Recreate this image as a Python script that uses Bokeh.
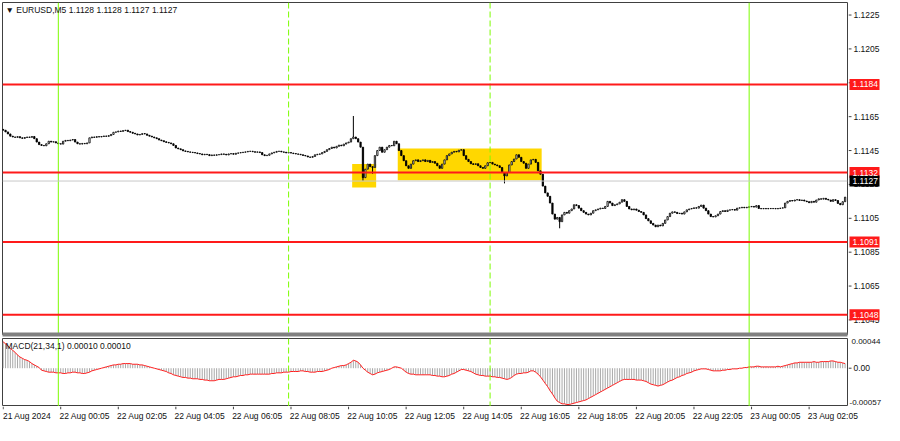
import numpy as np
from bokeh.plotting import figure
from bokeh.models import (Range1d, LinearAxis, FixedTicker, Span, Label, ColumnDataSource)
from bokeh.layouts import column, row
from bokeh.embed import file_html
from bokeh.resources import INLINE
from bokeh.core.properties import value

# ---------------- data (EURUSD M5, bar 0 = 21 Aug 2024 22:05) ----------------
first_open = 1.11575
close = [
    1.11570, 1.11560, 1.11548, 1.11535, 1.11530, 1.11528, 1.11532, 1.11525, 1.11522, 1.11527,
    1.11530, 1.11528, 1.11533, 1.11520, 1.11500, 1.11485, 1.11480, 1.11478, 1.11490, 1.11505,
    1.11500, 1.11502, 1.11495, 1.11490, 1.11488, 1.11505, 1.11510, 1.11508, 1.11512, 1.11515,
    1.11500, 1.11490, 1.11488, 1.11492, 1.11490, 1.11495, 1.11525, 1.11530, 1.11528, 1.11532,
    1.11530, 1.11533, 1.11536, 1.11534, 1.11538, 1.11545, 1.11558, 1.11560, 1.11565, 1.11563,
    1.11568, 1.11570, 1.11562, 1.11558, 1.11552, 1.11548, 1.11542, 1.11545, 1.11550, 1.11548,
    1.11540, 1.11535, 1.11530, 1.11525, 1.11520, 1.11512, 1.11508, 1.11502, 1.11498, 1.11495,
    1.11490, 1.11480, 1.11465, 1.11460, 1.11455, 1.11448, 1.11445, 1.11442, 1.11440, 1.11438,
    1.11436, 1.11432, 1.11430, 1.11425, 1.11428, 1.11426, 1.11420, 1.11424, 1.11422, 1.11425,
    1.11426, 1.11430, 1.11428, 1.11424, 1.11430, 1.11432, 1.11428, 1.11434, 1.11436, 1.11438,
    1.11440, 1.11442, 1.11445, 1.11446, 1.11443, 1.11440, 1.11442, 1.11438, 1.11425, 1.11420,
    1.11422, 1.11430, 1.11436, 1.11440, 1.11445, 1.11446, 1.11442, 1.11440, 1.11436, 1.11438,
    1.11435, 1.11432, 1.11430, 1.11428, 1.11425, 1.11421, 1.11418, 1.11412, 1.11410, 1.11415,
    1.11425, 1.11428, 1.11430, 1.11438, 1.11445, 1.11455, 1.11462, 1.11470, 1.11465, 1.11475,
    1.11482, 1.11478, 1.11488, 1.11495, 1.11500, 1.11520, 1.11530, 1.11520, 1.11500, 1.11470,
    1.11290, 1.11340, 1.11370, 1.11355, 1.11350, 1.11420, 1.11450, 1.11470, 1.11440, 1.11455,
    1.11470, 1.11480, 1.11478, 1.11505, 1.11490, 1.11450, 1.11420, 1.11390, 1.11360, 1.11345,
    1.11370, 1.11390, 1.11395, 1.11385, 1.11390, 1.11395, 1.11385, 1.11392, 1.11380, 1.11385,
    1.11375, 1.11360, 1.11345, 1.11370, 1.11395, 1.11420, 1.11430, 1.11440, 1.11445, 1.11442,
    1.11452, 1.11455, 1.11420, 1.11398, 1.11385, 1.11372, 1.11368, 1.11372, 1.11360, 1.11350,
    1.11345, 1.11360, 1.11378, 1.11380, 1.11370, 1.11365, 1.11360, 1.11350, 1.11320, 1.11300,
    1.11320, 1.11365, 1.11385, 1.11400, 1.11425, 1.11410, 1.11385, 1.11375, 1.11345, 1.11370,
    1.11395, 1.11398, 1.11380, 1.11330, 1.11310, 1.11240, 1.11200, 1.11180, 1.11140, 1.11075,
    1.11045, 1.11055, 1.11030, 1.11070, 1.11085, 1.11080, 1.11095, 1.11105, 1.11130, 1.11125,
    1.11110, 1.11095, 1.11085, 1.11075, 1.11070, 1.11080, 1.11095, 1.11100, 1.11105, 1.11110,
    1.11108, 1.11120, 1.11150, 1.11140, 1.11125, 1.11130, 1.11135, 1.11145, 1.11160, 1.11150,
    1.11120, 1.11105, 1.11100, 1.11105, 1.11098, 1.11090, 1.11085, 1.11070, 1.11048, 1.11035,
    1.11020, 1.11010, 1.11000, 1.11010, 1.11005, 1.11020, 1.11040, 1.11060, 1.11080, 1.11088,
    1.11085, 1.11078, 1.11080, 1.11075, 1.11088, 1.11100, 1.11105, 1.11108, 1.11112, 1.11110,
    1.11120, 1.11128, 1.11110, 1.11095, 1.11075, 1.11060, 1.11058, 1.11065, 1.11075, 1.11090,
    1.11095, 1.11090, 1.11098, 1.11100, 1.11102, 1.11098, 1.11110, 1.11112, 1.11115, 1.11112,
    1.11115, 1.11118, 1.11120, 1.11116, 1.11125, 1.11108, 1.11106, 1.11108, 1.11106, 1.11108,
    1.11107, 1.11108, 1.11106, 1.11108, 1.11110, 1.11112, 1.11140, 1.11150, 1.11155, 1.11152,
    1.11158, 1.11160, 1.11155, 1.11158, 1.11152, 1.11148, 1.11142, 1.11150, 1.11145, 1.11158,
    1.11165, 1.11163, 1.11168, 1.11162, 1.11158, 1.11150, 1.11160, 1.11155, 1.11138, 1.11130,
    1.11148, 1.11175,
]
wick_high = {146: 1.11654}
wick_low = {150: 1.11272, 154: 1.11313, 209: 1.11256, 232: 1.10991}

# MACD(21,34,1) main value per bar, in units of 0.00001 (signal period 1 -> same line)
macd_e5 = [
    40, 37, 34, 30, 27, 24, 20, 17, 15, 13,
    12, 10, 7, 5, 3, 1, -3, -4, -5, -6,
    -6, -6, -7, -7, -7, -8, -8, -7, -7, -6,
    -6, -7, -7, -8, -8, -7, -6, -4, -3, -2,
    -1, 0, 1, 2, 3, 4, 5, 5, 6, 6,
    7, 7, 7, 7, 6, 6, 6, 5, 5, 4,
    3, 2, 1, 0, -1, -2, -3, -4, -5, -7,
    -8, -10, -11, -12, -13, -14, -14, -15, -15, -16,
    -16, -16, -17, -17, -18, -18, -19, -19, -19, -18,
    -17, -17, -17, -16, -15, -14, -13, -13, -12, -11,
    -11, -10, -10, -9, -9, -9, -9, -9, -9, -9,
    -9, -9, -8, -8, -7, -7, -7, -6, -6, -6,
    -5, -5, -5, -5, -4, -4, -5, -5, -6, -6,
    -6, -5, -5, -5, -4, -3, -2, 0, 1, 2,
    3, 4, 4, 5, 7, 9, 12, 11, 9, 5,
    0, -3, -6, -8, -10, -9, -7, -6, -5, -4,
    -3, -2, 0, 2, 2, 1, 0, -3, -6, -8,
    -9, -9, -10, -10, -10, -10, -10, -10, -10, -11,
    -11, -12, -12, -13, -13, -12, -11, -9, -8, -6,
    -4, -2, -2, -3, -4, -5, -7, -9, -10, -11,
    -11, -12, -12, -12, -13, -13, -14, -14, -15, -16,
    -17, -16, -14, -11, -9, -8, -8, -7, -7, -6,
    -4, -4, -6, -9, -13, -18, -23, -28, -34, -39,
    -45, -50, -52, -54, -54, -55, -55, -54, -53, -52,
    -51, -50, -49, -48, -46, -44, -42, -40, -38, -36,
    -34, -32, -30, -28, -26, -24, -22, -20, -18, -17,
    -17, -17, -17, -17, -18, -18, -18, -19, -20, -22,
    -24, -25, -26, -27, -26, -25, -23, -21, -19, -18,
    -16, -14, -13, -11, -10, -8, -7, -6, -4, -3,
    -2, -1, -1, -1, -2, -3, -4, -4, -4, -4,
    -3, -3, -2, -2, -1, -1, -1, 0, 0, 1,
    1, 2, 2, 2, 3, 3, 2, 2, 2, 2,
    2, 2, 2, 3, 2, 3, 4, 5, 6, 7,
    8, 8, 9, 9, 9, 9, 9, 9, 10, 9,
    9, 10, 10, 10, 10, 11, 11, 10, 9, 9,
    8, 7,
]

levels = [1.1184, 1.1132, 1.1091, 1.1048]
bid_price = 1.1127
price_ticks = [1.1225, 1.1205, 1.1185, 1.1165, 1.1145, 1.1125, 1.1105, 1.1085, 1.1065, 1.1045]
macd_ticks = [0.0]
macd_tick_labels = ["0.00"]
macd_max = 0.00044
macd_min = -0.00057
time_tick_bars = [0, 24, 48, 72, 96, 120, 144, 168, 192, 216, 240, 264, 288, 312, 336]
time_tick_labels = ["21 Aug 2024", "22 Aug 00:05", "22 Aug 02:05", "22 Aug 04:05",
                    "22 Aug 06:05", "22 Aug 08:05", "22 Aug 10:05", "22 Aug 12:05",
                    "22 Aug 14:05", "22 Aug 16:05", "22 Aug 18:05", "22 Aug 20:05",
                    "22 Aug 22:05", "23 Aug 00:05", "23 Aug 02:05"]
day_bars = [23, 311]        # 22 Aug 00:00, 23 Aug 00:00 (solid)
session_bars = [119, 203]   # 22 Aug 08:00, 22 Aug 15:00 (dashed)
box_first_bar = [146, 165]
box_last_bar = [155, 224]
box_top = [1.11370, 1.11462]
box_bottom = [1.11232, 1.11274]
title_text = "\u25bc EURUSD,M5  1.1128 1.1128 1.1127 1.1127"
macd_title = "MACD(21,34,1) 0.00010 0.00010"

# ---------------- derived ----------------
n = len(close)
idx = np.arange(n)
opens = [first_open] + close[:-1]
highs = [wick_high.get(i, max(o, c)) for i, (o, c) in enumerate(zip(opens, close))]
lows = [wick_low.get(i, min(o, c)) for i, (o, c) in enumerate(zip(opens, close))]
bull = [c >= o for o, c in zip(opens, close)]
src = ColumnDataSource(dict(
    x=idx, top=[max(o, c) for o, c in zip(opens, close)],
    bottom=[min(o, c) for o, c in zip(opens, close)],
    high=highs, low=lows,
    fill=["white" if b else "black" for b in bull]))

macd = [v * 1e-5 for v in macd_e5]
msrc = ColumnDataSource(dict(x=idx, m=macd, z=[0.0] * n))

FONT = "Liberation Sans"
FS = "8.5px"
FS_SMALL = "8px"
TXT = "#111111"
X0, X1 = -0.27, 352.0
FW = 845
RW = 36
H1 = 332
H2 = 68
AXIS_LINE = "#404040"
GREEN = "#7CFC00"


def plain(fig):
    fig.grid.visible = False
    fig.background_fill_color = "white"
    fig.border_fill_color = "white"


def add_day_lines(fig):
    for b in day_bars:
        fig.add_layout(Span(location=b, dimension="height", line_color=GREEN,
                            line_width=1, level="glyph"))
    for b in session_bars:
        fig.add_layout(Span(location=b, dimension="height", line_color=GREEN,
                            line_width=1, line_dash="6 3", level="glyph"))


# ---------------- main price panel ----------------
p1 = figure(frame_width=FW, frame_height=H1, x_range=Range1d(X0, X1),
            y_range=Range1d(1.10364, 1.12324), output_backend="svg",
            toolbar_location=None, x_axis_location=None, y_axis_location=None,
            min_border_left=2, min_border_right=1, min_border_top=2,
            min_border_bottom=4)
plain(p1)
p1.outline_line_color = AXIS_LINE

p1.quad(left=[b - 0.5 for b in box_first_bar], right=[b + 0.5 for b in box_last_bar],
        top=box_top, bottom=box_bottom, fill_color="#FFD700", line_color=None)
add_day_lines(p1)
p1.add_layout(Span(location=bid_price, dimension="width", line_color="#c8c8c8",
                   line_width=1, level="glyph"))

p1.segment(x0="x", y0="low", x1="x", y1="high", source=src, line_color="black", line_width=1)
p1.vbar(x="x", top="top", bottom="bottom", width=0.55, source=src,
        fill_color="fill", line_color="black", line_width=0.8)

for lv in levels:
    p1.add_layout(Span(location=lv, dimension="width", line_color="#ff1a1a", line_width=2))

sep = LinearAxis(ticker=FixedTicker(ticks=[]), axis_line_color="#808080", axis_line_width=4,
                 major_tick_out=0, major_tick_in=0, minor_tick_out=0, minor_tick_in=0,
                 major_label_standoff=0)
p1.add_layout(sep, "below")

p1.add_layout(Label(x=X0, y=1.12324, x_offset=3, y_offset=-2, text=title_text,
                    text_align="left", text_baseline="top", text_font=FONT,
                    text_font_size=FS, text_color=TXT))

# price scale column (shares the price y-range)
p1r = figure(frame_width=RW, frame_height=H1, x_range=Range1d(0, RW), y_range=p1.y_range,
             output_backend="svg", toolbar_location=None, x_axis_location=None,
             y_axis_location=None, min_border_left=0, min_border_right=0,
             min_border_top=2, min_border_bottom=4)
plain(p1r)
p1r.outline_line_color = None
p1r.segment(x0=0, x1=3, y0=price_ticks, y1=price_ticks, line_color=AXIS_LINE, line_width=1)
p1r.text(x=5, y=price_ticks, text=[f"{t:.4f}" for t in price_ticks],
         text_font=value(FONT), text_font_size=value(FS), text_color=TXT,
         text_align="left", text_baseline="middle")
p1r.rect(x=16, y=levels, width=30, height=11, height_units="screen",
         fill_color="#ff1a1a", line_color=None)
p1r.rect(x=16, y=[bid_price], width=30, height=11, height_units="screen",
         fill_color="black", line_color=None)
p1r.text(x=4, y=levels + [bid_price], text=[f"{v:.4f}" for v in levels + [bid_price]],
         text_font=value(FONT), text_font_size=value(FS), text_color="white",
         text_align="left", text_baseline="middle")

# ---------------- MACD panel ----------------
p2 = figure(frame_width=FW, frame_height=H2, x_range=p1.x_range,
            y_range=Range1d(-0.00058, 0.00045), output_backend="svg",
            toolbar_location=None, x_axis_location=None, y_axis_location=None,
            min_border_left=2, min_border_right=1, min_border_top=0, min_border_bottom=0)
plain(p2)
p2.outline_line_color = AXIS_LINE
add_day_lines(p2)

p2.segment(x0="x", y0="z", x1="x", y1="m", source=msrc, line_color="#a8a8a8", line_width=1)
p2.line(x="x", y="m", source=msrc, line_color="#ff2020", line_width=1)

p2.add_layout(Label(x=X0, y=0.00045, x_offset=3, y_offset=-2, text=macd_title,
                    text_align="left", text_baseline="top", text_font=FONT,
                    text_font_size=FS, text_color=TXT))

p2r = figure(frame_width=RW, frame_height=H2, x_range=Range1d(0, RW), y_range=p2.y_range,
             output_backend="svg", toolbar_location=None, x_axis_location=None,
             y_axis_location=None, min_border_left=0, min_border_right=0,
             min_border_top=0, min_border_bottom=0)
plain(p2r)
p2r.outline_line_color = None
p2r.segment(x0=0, x1=3, y0=macd_ticks, y1=macd_ticks, line_color=AXIS_LINE, line_width=1)
p2r.text(x=5, y=macd_ticks, text=macd_tick_labels, text_font=value(FONT),
         text_font_size=value(FS), text_color=TXT, text_align="left", text_baseline="middle")
p2r.text(x=3, y=[macd_max], text=[f"{macd_max:.5f}"], text_font=value(FONT),
         text_font_size=value(FS_SMALL), text_color=TXT, text_align="left",
         text_baseline="top")
p2r.text(x=1, y=[0.5 * (macd_min + p2.y_range.start)], text=[f"{macd_min:.5f}"],
         y_offset=-1, text_font=value(FONT), text_font_size=value(FS_SMALL), text_color=TXT,
         text_align="left", text_baseline="bottom")

# ---------------- time scale strip (shares the bar x-range) ----------------
p3 = figure(frame_width=FW, frame_height=3, x_range=p1.x_range, y_range=Range1d(0, 1),
            output_backend="svg", toolbar_location=None, x_axis_location=None,
            y_axis_location=None, min_border_left=2, min_border_right=RW + 1,
            min_border_top=0, min_border_bottom=0)
plain(p3)
p3.outline_line_color = None
p3.segment(x0=time_tick_bars, x1=time_tick_bars, y0=0, y1=1, line_color=AXIS_LINE,
           line_width=1)
LABEL_SHIFT = 10.0
shifted = [b + LABEL_SHIFT for b in time_tick_bars]
lab_axis = LinearAxis(ticker=FixedTicker(ticks=shifted),
                      major_label_overrides={t: s for t, s in zip(shifted, time_tick_labels)},
                      major_tick_out=0, major_tick_in=0, minor_tick_out=0, minor_tick_in=0,
                      axis_line_color=None, major_label_standoff=1,
                      major_label_text_font=FONT, major_label_text_font_size=FS,
                      major_label_text_color=TXT)
p3.add_layout(lab_axis, "below")

layout = column(row(p1, p1r, spacing=0), row(p2, p2r, spacing=0), p3, spacing=0)
open("out.html", "w").write(file_html(layout, INLINE))
